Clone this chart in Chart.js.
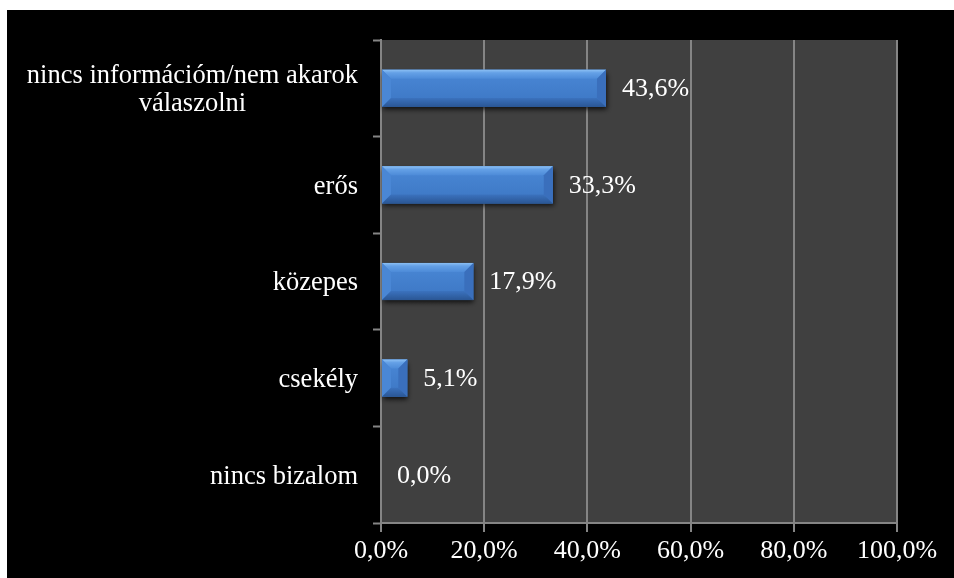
<!DOCTYPE html>
<html>
<head>
<meta charset="utf-8">
<script src="https://cdn.jsdelivr.net/npm/chart.js@4.4.1/dist/chart.umd.min.js"></script>
<style>
  body { margin: 0; background: #fff; }
  #box { position: absolute; left: 7px; top: 10px; width: 947px; height: 568px; background: #000; }
</style>
</head>
<body>
<div id="box"><canvas id="bizalom"></canvas></div>
<script>
const categories = [['nincs információm/nem akarok', 'válaszolni'], 'erős', 'közepes', 'csekély', 'nincs bizalom']
const values = [43.6, 33.3, 17.9, 5.1, 0.0]
const xTicks = [0, 20, 40, 60, 80, 100]

const FONT = '"Liberation Serif", "Times New Roman", serif'
const GRID = '#858585'

function pct(v) {
    return v.toFixed(1).replace('.', ',') + '%'
}

// grey plot area
const plotBg = {
    id: 'plotBg',
    beforeDraw(chart) {
        const a = chart.chartArea
        const ctx = chart.ctx
        ctx.save()
        ctx.fillStyle = '#404040'
        ctx.fillRect(a.left, a.top, a.right - a.left, a.bottom - a.top)
        ctx.restore()
    }
}

// bevelled bars + value labels
const bevelBars = {
    id: 'bevelBars',
    afterDatasetsDraw(chart) {
        const ctx = chart.ctx
        chart.getDatasetMeta(0).data.forEach(function (el, i) {
            const x0 = el.base, x1 = el.x
            const y0 = el.y - el.height / 2, y1 = el.y + el.height / 2
            const w = x1 - x0
            if (w > 0.5) {
                const b = Math.min(9, w / 2)
                ctx.save()
                ctx.shadowColor = 'rgba(0,0,0,0.75)'
                ctx.shadowBlur = 5
                ctx.shadowOffsetX = 1
                ctx.shadowOffsetY = 3
                const g = ctx.createLinearGradient(0, y0, 0, y1)
                g.addColorStop(0, '#4a88d6')
                g.addColorStop(1, '#3c76c3')
                ctx.fillStyle = g
                ctx.fillRect(x0, y0, w, y1 - y0)
                ctx.restore()

                ctx.save()
                const poly = function (pts, fill) {
                    ctx.beginPath()
                    ctx.moveTo(pts[0][0], pts[0][1])
                    for (let k = 1; k < pts.length; k++) ctx.lineTo(pts[k][0], pts[k][1])
                    ctx.closePath()
                    ctx.fillStyle = fill
                    ctx.fill()
                }
                const gt = ctx.createLinearGradient(0, y0, 0, y0 + b)
                gt.addColorStop(0, '#8cc0f4')
                gt.addColorStop(0.35, '#64a0e6')
                gt.addColorStop(1, '#4d8bd8')
                poly([[x0, y0], [x1, y0], [x1 - b, y0 + b], [x0 + b, y0 + b]], gt)
                poly([[x0, y0], [x0 + b, y0 + b], [x0 + b, y1 - b], [x0, y1]], '#4a87d5')
                poly([[x1, y0], [x1, y1], [x1 - b, y1 - b], [x1 - b, y0 + b]], '#3a6fbc')
                const gb = ctx.createLinearGradient(0, y1 - b, 0, y1)
                gb.addColorStop(0, '#3b72be')
                gb.addColorStop(1, '#2a5694')
                poly([[x0, y1], [x1, y1], [x1 - b, y1 - b], [x0 + b, y1 - b]], gb)
                ctx.restore()
            }
            ctx.save()
            ctx.font = '26px ' + FONT
            ctx.fillStyle = '#ffffff'
            ctx.textAlign = 'left'
            ctx.textBaseline = 'middle'
            ctx.fillText(pct(values[i]), x1 + 16, el.y + 1)
            ctx.restore()
        })
    }
}

// category labels, multi-line ones centred on themselves
const catLabels = {
    id: 'catLabels',
    afterDraw(chart) {
        const ctx = chart.ctx
        const sc = chart.scales.y
        const right = sc.right - 23
        ctx.save()
        ctx.font = '26.5px ' + FONT
        ctx.fillStyle = '#ffffff'
        ctx.textAlign = 'center'
        ctx.textBaseline = 'middle'
        categories.forEach(function (c, i) {
            const lines = Array.isArray(c) ? c : [c]
            const maxW = Math.max.apply(null, lines.map(l => ctx.measureText(l).width))
            const cx = right - maxW / 2
            const lh = 28
            const yc = sc.getPixelForValue(i) + 2
            lines.forEach(function (l, k) {
                ctx.fillText(l, cx, yc + (k - (lines.length - 1) / 2) * lh)
            })
        })
        ctx.restore()
    }
}

new Chart(document.getElementById('bizalom'), {
    type: 'bar',
    data: {
        labels: categories,
        datasets: [{
            data: values,
            backgroundColor: '#4682d0',
            categoryPercentage: 1,
            barPercentage: 0.385
        }]
    },
    options: {
        indexAxis: 'y',
        responsive: true,
        maintainAspectRatio: false,
        animation: false,
        layout: { padding: { top: 30, right: 57, left: 0, bottom: 0 } },
        plugins: {
            legend: { display: false },
            tooltip: { enabled: false }
        },
        scales: {
            x: {
                min: 0,
                max: 100,
                afterBuildTicks(scale) {
                    scale.ticks = xTicks.map(v => ({ value: v }))
                },
                afterFit(scale) { scale.height = 55 },
                grid: { color: GRID, lineWidth: 2, tickLength: 9, tickColor: GRID, tickWidth: 2 },
                border: { color: GRID, width: 2 },
                ticks: {
                    color: '#ffffff',
                    font: { family: FONT, size: 26 },
                    padding: 4,
                    maxRotation: 0,
                    callback: v => pct(v)
                }
            },
            y: {
                afterFit(scale) { scale.width = 374 },
                grid: { drawOnChartArea: false, offset: true, tickLength: 8, color: GRID, tickWidth: 2 },
                border: { color: GRID, width: 2 },
                ticks: { display: false }
            }
        }
    },
    plugins: [plotBg, bevelBars, catLabels]
})
</script>
</body>
</html>
